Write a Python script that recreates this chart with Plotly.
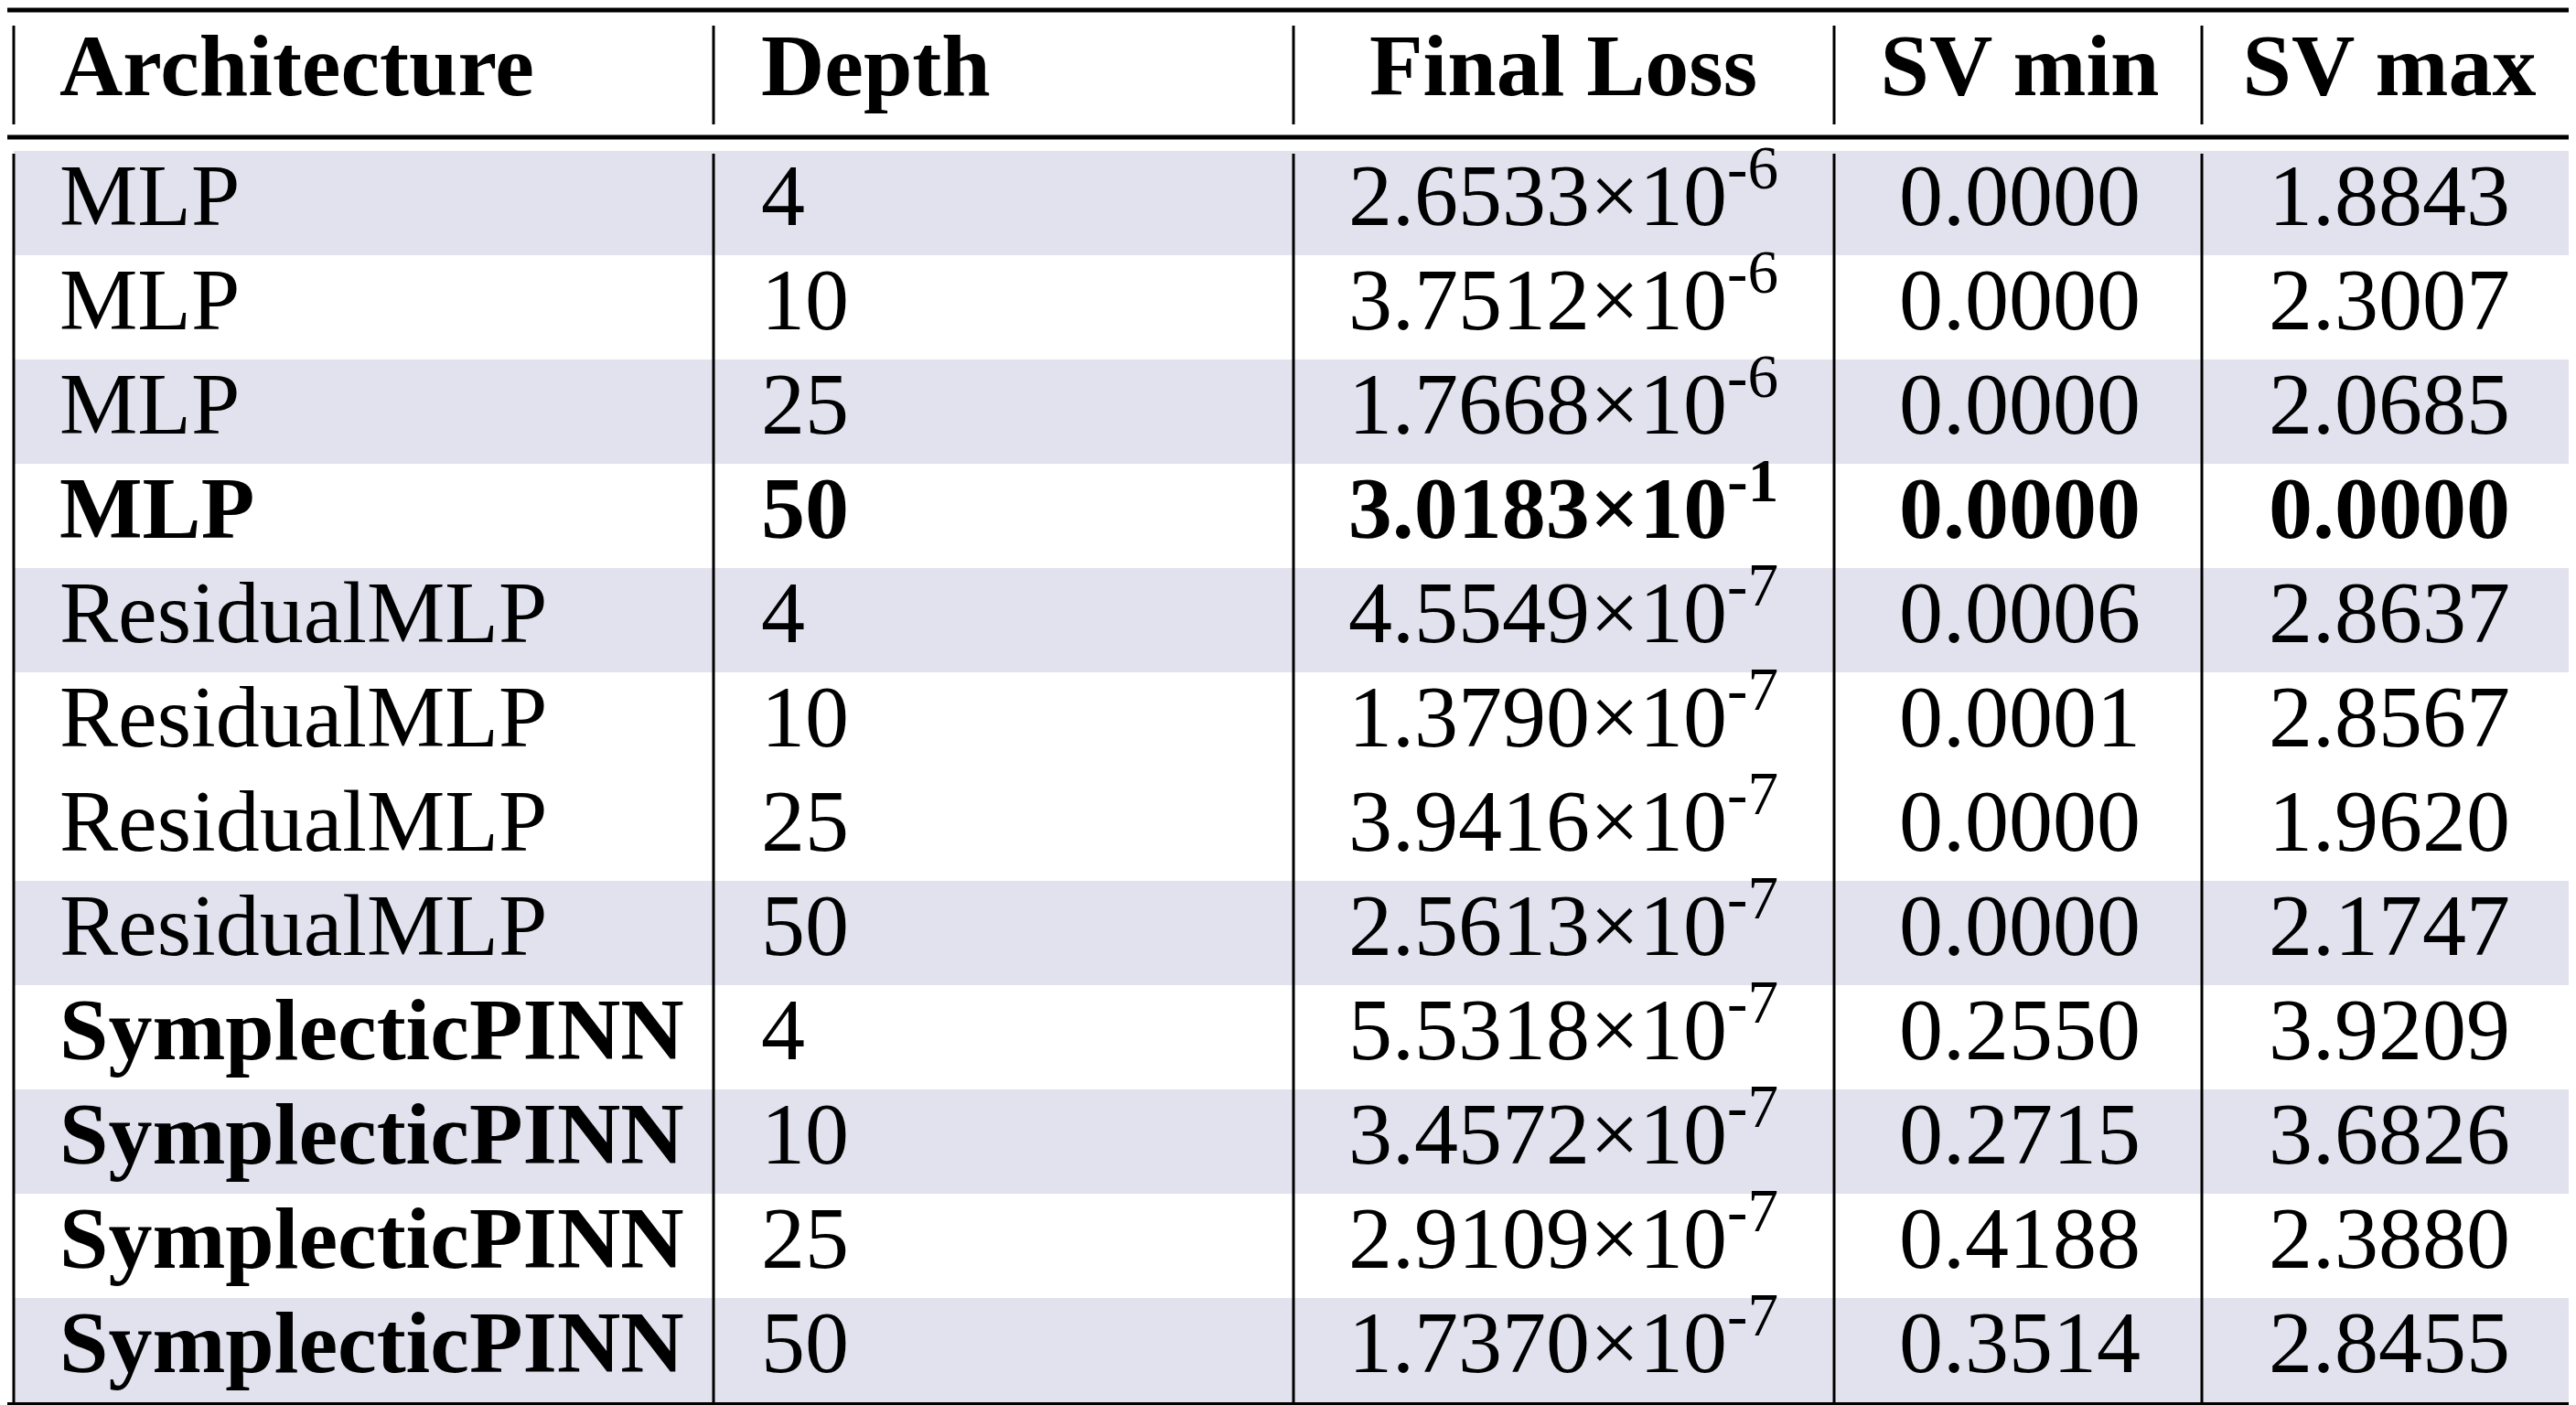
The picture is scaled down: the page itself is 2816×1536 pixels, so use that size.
import plotly.graph_objects as go

architectures = ["MLP"]*4 + ["ResidualMLP"]*4 + ["SymplecticPINN"]*4
depths = [4, 10, 25, 50]*3
loss_mant = ["2.6533","3.7512","1.7668","3.0183","4.5549","1.3790","3.9416","2.5613",
             "5.5318","3.4572","2.9109","1.7370"]
loss_exp = [-6,-6,-6,-1,-7,-7,-7,-7,-7,-7,-7,-7]
sv_min = ["0.0000","0.0000","0.0000","0.0000","0.0006","0.0001","0.0000","0.0000",
          "0.2550","0.2715","0.4188","0.3514"]
sv_max = ["1.8843","2.3007","2.0685","0.0000","2.8637","2.8567","1.9620","2.1747",
          "3.9209","3.6826","2.3880","2.8455"]
headers = ["Architecture", "Depth", "Final Loss", "SV min", "SV max"]
shaded = [1,0,1,0,1,0,0,1,0,1,0,1]
bold_row = [False,False,False,True] + [False]*8

W, H = 2816, 1536
FONT = dict(family="Liberation Serif", size=96, color="black")
def b(s, on): return f"<b>{s}</b>" if on else s

col_arch = [b(a, a == "SymplecticPINN" or br) for a, br in zip(architectures, bold_row)]
col_depth = [b(str(d), br) for d, br in zip(depths, bold_row)]
col_loss = [b(f"{m}×10<sup>{e}</sup>", br) for m, e, br in zip(loss_mant, loss_exp, bold_row)]
col_min = [b(v, br) for v, br in zip(sv_min, bold_row)]
col_max = [b(v, br) for v, br in zip(sv_max, bold_row)]
columns = [col_arch, col_depth, col_loss, col_min, col_max]

# layout geometry (pixels)
xb = [7, 772, 1406, 1997, 2399, 2810]
text_x = [57, 824, 1701, 2200, 2604]
positions = ["middle right", "middle right", "middle center", "middle center", "middle center"]
body_top, row_h, header_y = 157, 114, 72
n = len(architectures)
row_y = [body_top + row_h*(i+0.5) for i in range(n)]

fig = go.Figure()
for j, col in enumerate(columns):
    fig.add_trace(go.Scatter(x=[text_x[j]]*n, y=row_y, text=col, mode="text",
                             textposition=positions[j], textfont=FONT,
                             hoverinfo="skip", showlegend=False))
    fig.add_trace(go.Scatter(x=[text_x[j]], y=[header_y], text=[f"<b>{headers[j]}</b>"],
                             mode="text", textposition=positions[j], textfont=FONT,
                             hoverinfo="skip", showlegend=False))

shapes = []
for i, s in enumerate(shaded):
    if s:
        shapes.append(dict(type="rect", xref="x", yref="y", x0=xb[0], x1=xb[-1],
                           y0=body_top + row_h*i, y1=body_top + row_h*(i+1),
                           fillcolor="#e2e1ee", line=dict(width=0), layer="below"))
def hline(y, w=4):
    shapes.append(dict(type="line", xref="x", yref="y", x0=0, x1=W, y0=y, y1=y,
                       line=dict(color="black", width=w)))
def vline(x, y0, y1, w=3):
    shapes.append(dict(type="line", xref="x", yref="y", x0=x, x1=x, y0=y0, y1=y1,
                       line=dict(color="black", width=w)))
hline(3, 5); hline(142, 5); hline(1527, 4)
for x in xb:
    vline(x, 20, 128); vline(x, 160, 1527)

fig.update_layout(width=W, height=H, margin=dict(l=0, r=0, t=0, b=0),
                  paper_bgcolor="white", plot_bgcolor="white", shapes=shapes,
                  xaxis=dict(range=[0, W], visible=False, fixedrange=True),
                  yaxis=dict(range=[H, 0], visible=False, fixedrange=True))
fig.write_html("out.html")
